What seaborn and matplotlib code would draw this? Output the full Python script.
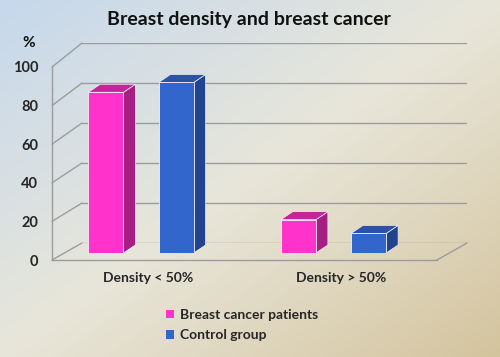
import numpy as np
import pandas as pd
import matplotlib
matplotlib.use("Agg")
import matplotlib.pyplot as plt
import seaborn as sns
from matplotlib.patches import Polygon, Patch
from matplotlib.lines import Line2D
from matplotlib.colors import LinearSegmentedColormap

# ---- datos -------------------------------------------------------------
categories = ["Density < 50%", "Density > 50%"]
groups = ["Breast cancer patients", "Control group"]
patients = [82, 17]
controls = [87, 10]
y_ticks = [0, 20, 40, 60, 80, 100]

front_colors = {"Breast cancer patients": "#FF33CC", "Control group": "#3366CC"}
side_colors = {"Breast cancer patients": "#A61F82", "Control group": "#21448F"}
top_colors = {"Breast cancer patients": "#C4259A", "Control group": "#2B52A8"}
grid_color = "#9c9c9c"

df = pd.DataFrame({
    "category": categories * 2,
    "group": [groups[0]] * len(categories) + [groups[1]] * len(categories),
    "value": patients + controls,
})

sns.set_theme(style="white")
plt.rcParams["font.family"] = ["Lato", "DejaVu Sans"]

W, H = 500, 357
fig = plt.figure(figsize=(W / 100, H / 100), dpi=100)


def px_axes(x0, y0, x1, y1, **kw):
    # caja en pixeles (y desde arriba)
    return fig.add_axes([x0 / W, 1 - y1 / H, (x1 - x0) / W, (y1 - y0) / H], **kw)


def fig_line(p1, p2):
    inv = fig.transFigure.inverted()
    a, b = inv.transform(p1), inv.transform(p2)
    fig.add_artist(Line2D([a[0], b[0]], [a[1], b[1]], color=grid_color, lw=1))


# ---- fondo degradado ---------------------------------------------------
bg = fig.add_axes([0, 0, 1, 1], zorder=-10)
yy, xx = np.mgrid[0:1:H * 1j, 0:1:W * 1j]
cmap = LinearSegmentedColormap.from_list("bg", ["#C6D8EC", "#E8E6DA", "#D4C49E"])
bg.imshow((xx + yy) / 2, cmap=cmap, aspect="auto", extent=[0, 1, 0, 1])
bg.axis("off")

# ---- pared de fondo ----------------------------------------------------
ax_b = px_axes(82, 43, 467, 243)
ax_b.set_xlim(0, 1)
ax_b.set_ylim(0, 100)
for v in y_ticks:
    ax_b.axhline(v, color=grid_color, lw=1)
ax_b.axis("off")

# ---- plano frontal (ejes y etiquetas) ----------------------------------
ax_f = px_axes(52, 67, 437, 260)
ax_f.patch.set_alpha(0)
ax_f.set_xlim(-0.5, len(categories) - 0.5)
ax_f.set_ylim(0, 100)
ax_f.set_xticks(range(len(categories)), categories, fontweight="bold", fontsize=10)
ax_f.set_yticks(y_ticks, [str(v) for v in y_ticks], fontweight="bold", fontsize=10.5)
ax_f.tick_params(axis="y", length=0, pad=10)
ax_f.tick_params(axis="x", length=0, pad=9)
for s in ["top", "right"]:
    ax_f.spines[s].set_visible(False)
for s in ["left", "bottom"]:
    ax_f.spines[s].set_color(grid_color)
    ax_f.spines[s].set_linewidth(1)

fig.canvas.draw()
# diagonales de la pared izquierda y del suelo
for v in y_ticks:
    fig_line(ax_f.transData.transform((-0.5, v)), ax_b.transData.transform((0, v)))
fig_line(ax_f.transData.transform((len(categories) - 0.5, 0)), ax_b.transData.transform((1, 0)))

# ---- barras 3D ---------------------------------------------------------
ax = px_axes(64, 57, 449, 253)
sns.barplot(data=df, x="category", y="value", hue="group", hue_order=groups,
            palette=front_colors, saturation=1, width=0.73, gap=0.5, ax=ax,
            legend=False, edgecolor="#f4f0f4", linewidth=0.6, zorder=3)
ax.set_xlim(-0.4, 1.6)
ax.set_ylim(0, 100)
ax.axis("off")

dx, dy = 0.062, 4.1
for grp, cont in zip(groups, ax.containers):
    for bar in cont:
        x, w, h = bar.get_x(), bar.get_width(), bar.get_height()
        side = [(x + w, 0), (x + w + dx, dy), (x + w + dx, h + dy), (x + w, h)]
        top = [(x, h), (x + dx, h + dy), (x + w + dx, h + dy), (x + w, h)]
        ax.add_patch(Polygon(side, closed=True, facecolor=side_colors[grp],
                             edgecolor="#f4f0f4", lw=0.5, zorder=2, clip_on=False))
        ax.add_patch(Polygon(top, closed=True, facecolor=top_colors[grp],
                             edgecolor="#f4f0f4", lw=0.5, zorder=2, clip_on=False))

# ---- textos ------------------------------------------------------------
fig.text(249 / W, 1 - 19 / H, "Breast density and breast cancer",
         ha="center", va="center", fontsize=14, fontweight="bold", color="#111111")
fig.text(29 / W, 1 - 43 / H, "%", ha="center", va="center",
         fontsize=11, fontweight="bold", color="#111111")

handles = [Patch(facecolor=front_colors[g], edgecolor="none") for g in groups]
leg = fig.legend(handles, groups, loc="upper left",
                 bbox_to_anchor=(166 / W, 1 - 309 / H), frameon=False,
                 borderpad=0, borderaxespad=0, handlelength=0.55, handleheight=0.55,
                 handletextpad=0.45, labelspacing=0.6,
                 prop={"weight": "bold", "size": 10})

fig.savefig("out.png", dpi=100)
plt.close()
